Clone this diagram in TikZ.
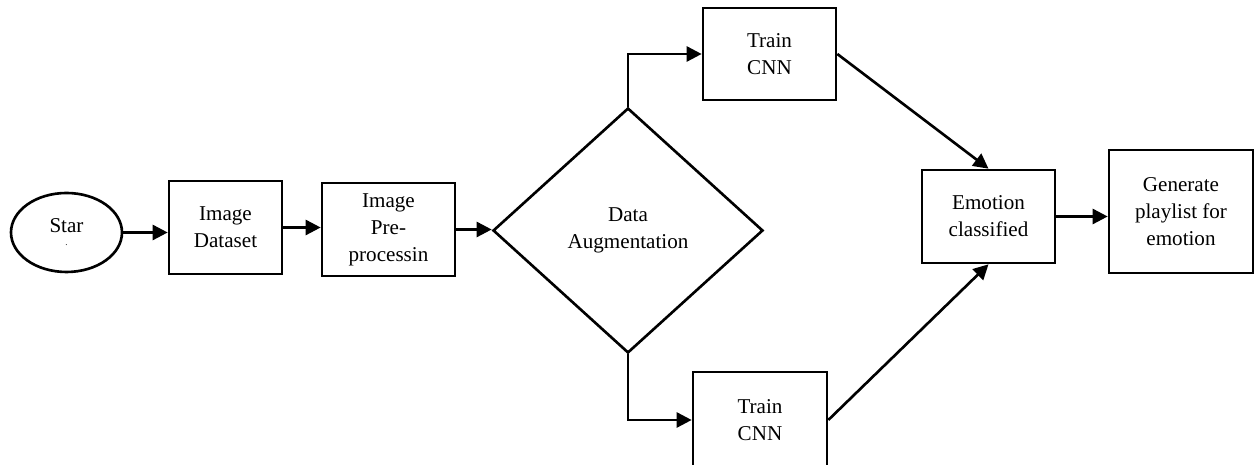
\documentclass[tikz,border=0pt]{standalone}
\usepackage{fontspec}
\setmainfont{Liberation Serif}
\usetikzlibrary{shapes.geometric,arrows.meta}

\tikzset{
    box/.style={draw,line width=1.5pt,rectangle,minimum width=2.66cm,minimum height=1.86cm,align=center,inner sep=0pt,font=\fontsize{12}{15.3}\selectfont},
    startend/.style={draw,line width=1.5pt,ellipse,minimum width=2.22cm,minimum height=1.58cm,align=center,inner sep=0pt,font=\fontsize{12}{15.3}\selectfont},
    decision/.style={draw,line width=1.5pt,diamond,minimum width=5.4cm,minimum height=4.9cm,align=center,inner sep=0pt,font=\fontsize{12}{15.3}\selectfont},
    flow/.style={line width=1.5pt,-{Triangle[length=0.3cm,width=0.3cm]}}
}

\begin{document}
\begin{tikzpicture}
        \clip (0,0) rectangle (25.1,9.3);
        \node[startend] (start) at (1.33,4.65) {Star\\[-8pt]{\tiny .}};
        \node[box,minimum width=2.26cm] (dataset) at (4.51,4.75) {Image\\Dataset};
        \node[box] (preproc) at (7.77,4.71) {Image\\Pre-\\processin};
        \node[decision] (augment) at (12.56,4.69) {Data\\Augmentation};
        \node[box,minimum height=1.84cm] (traintop) at (15.39,8.22) {Train\\CNN};
        \node[box,minimum width=2.68cm,minimum height=1.92cm] (trainbot) at (15.2,0.9) {Train\\CNN};
        \node[box] (emotion) at (19.77,4.97) {Emotion\\classified};
        \node[box,minimum width=2.88cm,minimum height=2.46cm] (playlist) at (23.62,5.07) {Generate\\playlist for\\emotion};

        \draw[flow] (start.east) -- (start.east -| dataset.west);
        \draw[flow] (dataset.east) -- (dataset.east -| preproc.west);
        \draw[flow] (preproc.east) -- (preproc.east -| augment.west);
        \draw[flow] (augment.north) |- (traintop.west);
        \draw[flow] (augment.south) |- (trainbot.west);
        \draw[flow] (traintop.east) -- (emotion.north);
        \draw[flow] (trainbot.east) -- (emotion.south);
        \draw[flow] (emotion.east) -- (emotion.east -| playlist.west);
\end{tikzpicture}
\end{document}
